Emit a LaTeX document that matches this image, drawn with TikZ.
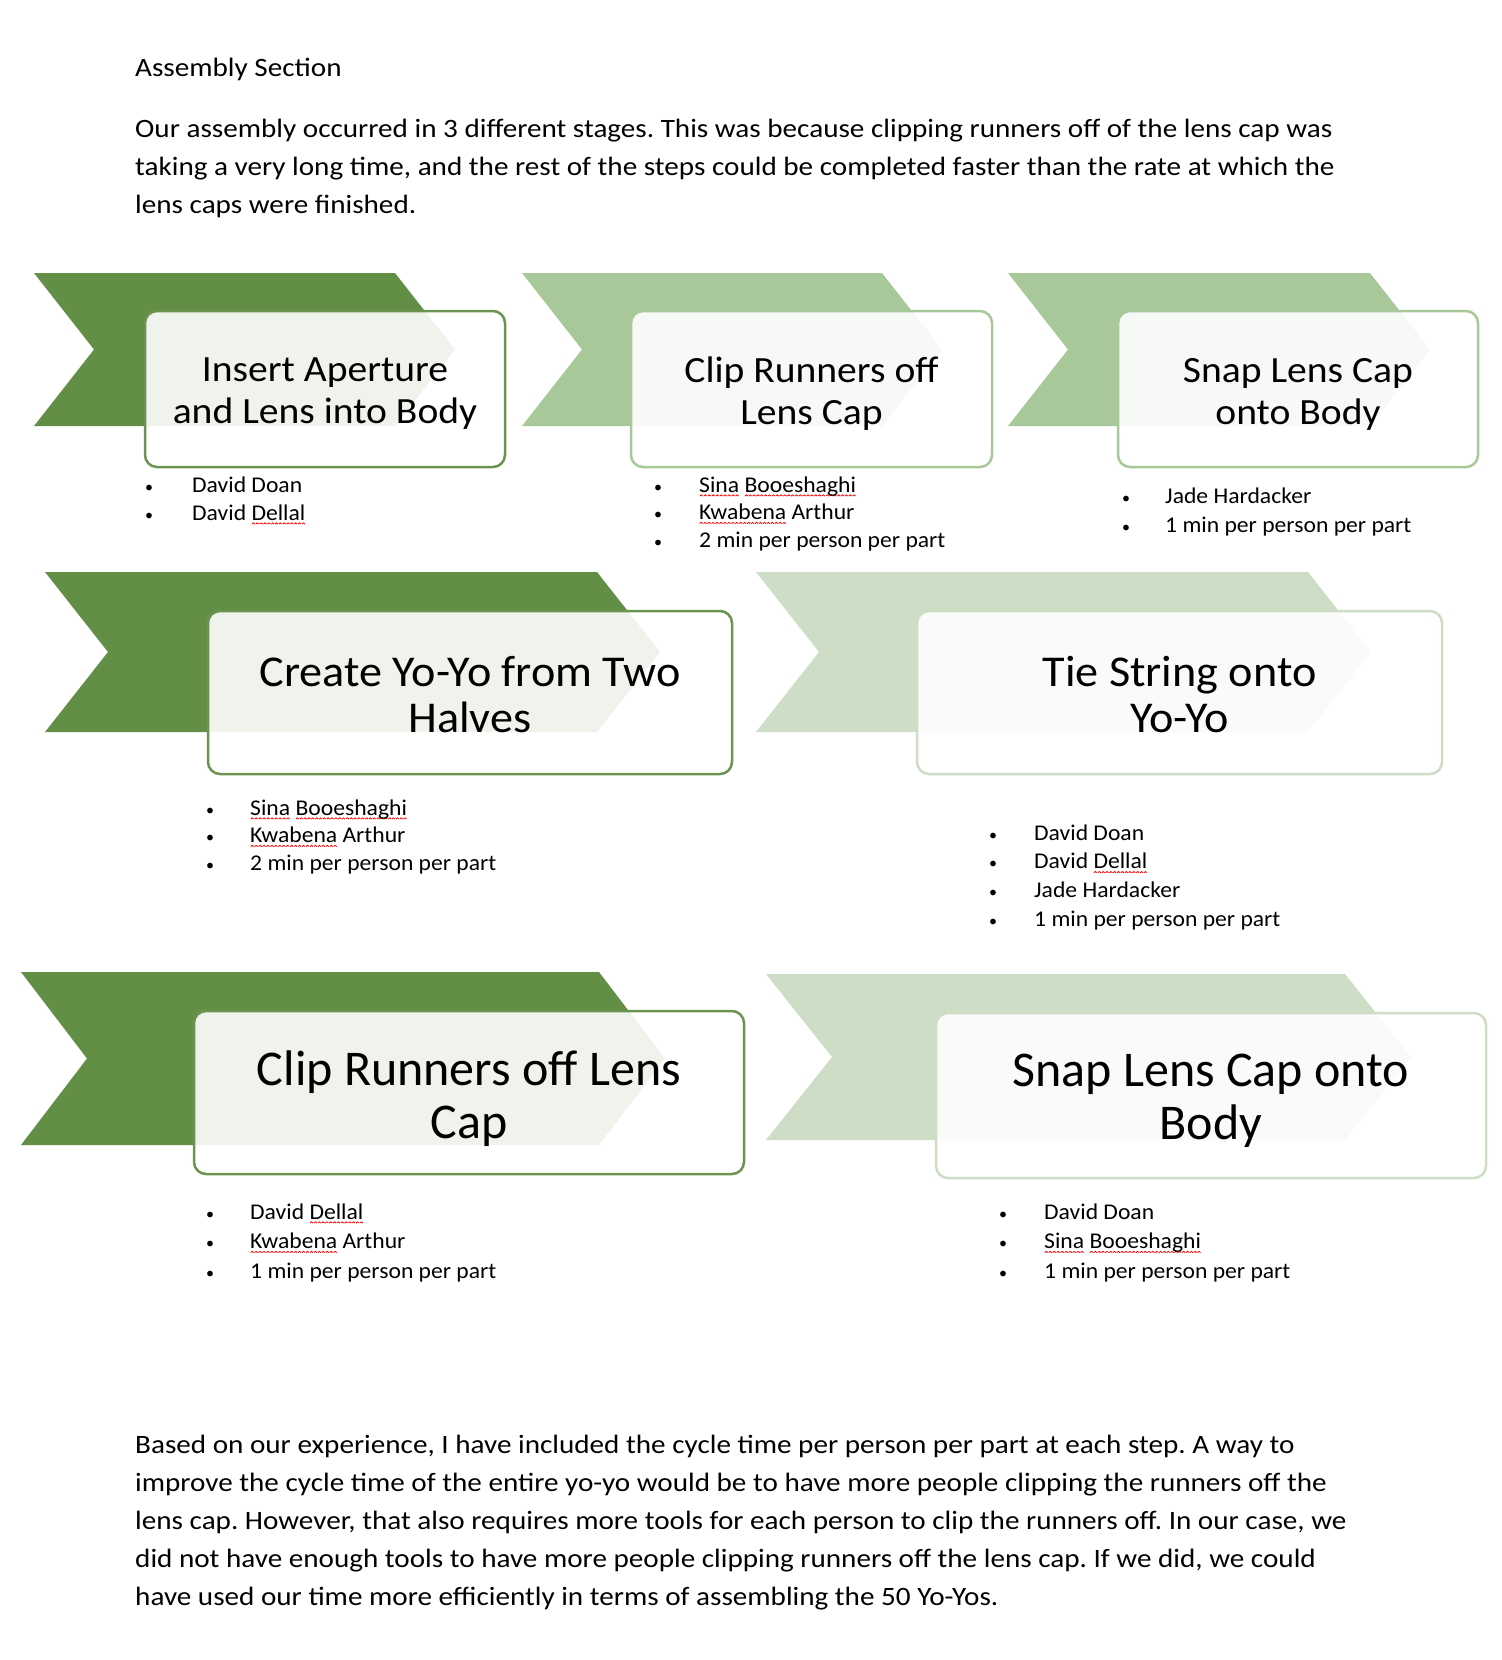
\documentclass[tikz,border=0pt]{standalone}
\usepackage{fontspec}
\setmainfont{Carlito}
\usepackage{tikz}
\usetikzlibrary{positioning}
\frenchspacing
\definecolor{stepdark}{HTML}{628E45}
\definecolor{steplight}{HTML}{A8C899}
\definecolor{steppale}{HTML}{CEDDC5}
\definecolor{rimdark}{HTML}{6A9450}
% red spell-check wave under a word
\newcommand{\spell}[1]{\setbox0=\hbox{#1}\rlap{\raisebox{-4.5pt}{\hbox to \wd0{\xleaders\hbox{\tikz\draw[red, line width=0.8pt] (0pt,0pt) -- (1.5pt,1.3pt) -- (3pt,0pt);}\hfill}}}#1}
% chevron: left, top, bottom, right, depth, colour
\newcommand{\chevron}[6]{\fill[#6] (#1,#2) -- (#4,#2) -- ({#4+#5},{(#2+#3)/2}) -- (#4,#3) -- (#1,#3) -- ({#1+#5},{(#2+#3)/2}) -- cycle;}
\tikzset{
  stepbox/.style={draw, rounded corners=12pt, line width=2.5pt, fill=white, fill opacity=0.9, inner sep=0pt},
  steptext/.style={align=center, inner sep=0pt},
  para/.style={anchor=base west, inner sep=0pt, font=\fontsize{26.5}{30}\selectfont\addfontfeature{FakeStretch=1.1}},
  member/.style={anchor=base west, inner sep=0pt, font=\fontsize{22.5}{26}\selectfont\addfontfeature{FakeStretch=1.05}},
  dot/.style={anchor=base west, inner sep=0pt, font=\fontsize{16}{18}\selectfont}
}
\begin{document}
\begin{tikzpicture}[x=1pt, y=-1pt]
\useasboundingbox (0,0) rectangle (1502,1660);
\fill[white] (0,0) rectangle (1502,1660);

% intro text
\node[para] (title) at (135,76) {Assembly Section};
\foreach \ln [count=\i from 0] in {{Our assembly occurred in 3 different stages. This was because clipping runners off of the lens cap was},
  {taking a very long time, and the rest of the steps could be completed faster than the rate at which the},
  {lens caps were finished.}}
  \node[para] (intro\i) at (135,{137+38*\i}) {\ln};

% chevrons
\chevron{34}{273}{426}{395}{60}{stepdark}
\chevron{522}{273}{426}{882}{60}{steplight}
\chevron{1008}{273}{426}{1370}{60}{steplight}
\chevron{45}{572}{732}{597}{63}{stepdark}
\chevron{756}{572}{732}{1308}{63}{steppale}
\chevron{21}{972}{1145}{599}{66}{stepdark}
\chevron{766}{974}{1140}{1345}{66}{steppale}

% step boxes
\node[stepbox, draw=rimdark, minimum width=360, minimum height=156] (insert) at (325,389) {};
\node[stepbox, draw=steplight, minimum width=361, minimum height=156] (clipA) at (811.5,389) {};
\node[stepbox, draw=steplight, minimum width=360, minimum height=156] (snapA) at (1298,389) {};
\node[stepbox, draw=rimdark, minimum width=524, minimum height=163] (create) at (470,692.5) {};
\node[stepbox, draw=steppale, minimum width=525, minimum height=163] (tie) at (1179.5,692.5) {};
\node[stepbox, draw=rimdark, minimum width=550, minimum height=163] (clipB) at (469,1092.5) {};
\node[stepbox, draw=steppale, minimum width=550, minimum height=165] (snapB) at (1211,1095.5) {};

% step titles
\tikzset{rowone/.style={steptext, yshift=-5pt, font=\fontsize{37}{42}\selectfont\addfontfeature{FakeStretch=1.07}}}
\node[rowone] (insert-txt) at (insert) {Insert Aperture\\and Lens into Body};
\node[rowone] (clipA-txt) at (clipA) {Clip Runners off\\Lens Cap};
\node[rowone] (snapA-txt) at (snapA) {Snap Lens Cap\\onto Body};
\node[steptext, yshift=-2pt, font=\fontsize{44}{46}\selectfont\addfontfeature{FakeStretch=1.05}] (create-txt) at (create) {Create Yo-Yo from Two\\Halves};
\node[steptext, yshift=-2pt, font=\fontsize{44}{46}\selectfont\addfontfeature{FakeStretch=1.05}] (tie-txt) at (tie) {Tie String onto\\Yo-Yo};
\node[steptext, yshift=-6pt, font=\fontsize{50}{53}\selectfont] (clipB-txt) at (clipB) {Clip Runners off Lens\\Cap};
\node[steptext, yshift=-5pt, font=\fontsize{50}{53}\selectfont] (snapB-txt) at (snapB) {Snap Lens Cap onto\\Body};

% crews
\foreach \who [count=\i from 0] in {David Doan, David \spell{Dellal}} {
  \node[dot] (dotA\i) at (145,{492+28*\i}) {•};
  \node[member] (crewA\i) at (192,{492+28*\i}) {\who};
}
\foreach \who [count=\i from 0] in {\spell{Sina} \spell{Booeshaghi}, \spell{Kwabena} Arthur, 2 min per person per part} {
  \node[dot] (dotB\i) at (654,{492+27.5*\i}) {•};
  \node[member] (crewB\i) at (699,{492+27.5*\i}) {\who};
}
\foreach \who [count=\i from 0] in {Jade Hardacker, 1 min per person per part} {
  \node[dot] (dotC\i) at (1122,{503+29*\i}) {•};
  \node[member] (crewC\i) at (1165,{503+29*\i}) {\who};
}
\foreach \who [count=\i from 0] in {\spell{Sina} \spell{Booeshaghi}, \spell{Kwabena} Arthur, 2 min per person per part} {
  \node[dot] (dotD\i) at (206,{815+27.5*\i}) {•};
  \node[member] (crewD\i) at (250,{815+27.5*\i}) {\who};
}
\foreach \who [count=\i from 0] in {David Doan, David \spell{Dellal}, Jade Hardacker, 1 min per person per part} {
  \node[dot] (dotE\i) at (989,{840+28.7*\i}) {•};
  \node[member] (crewE\i) at (1034,{840+28.7*\i}) {\who};
}
\foreach \who [count=\i from 0] in {David \spell{Dellal}, \spell{Kwabena} Arthur, 1 min per person per part} {
  \node[dot] (dotF\i) at (206,{1219+29.5*\i}) {•};
  \node[member] (crewF\i) at (250,{1219+29.5*\i}) {\who};
}
\foreach \who [count=\i from 0] in {David Doan, \spell{Sina} \spell{Booeshaghi}, 1 min per person per part} {
  \node[dot] (dotG\i) at (999,{1219+29.5*\i}) {•};
  \node[member] (crewG\i) at (1044,{1219+29.5*\i}) {\who};
}

% closing text
\foreach \ln [count=\i from 0] in {{Based on our experience, I have included the cycle time per person per part at each step. A way to},
  {improve the cycle time of the entire yo-yo would be to have more people clipping the runners off the},
  {lens cap. However, that also requires more tools for each person to clip the runners off. In our case, we},
  {did not have enough tools to have more people clipping runners off the lens cap. If we did, we could},
  {have used our time more efficiently in terms of assembling the 50 Yo-Yos.}}
  \node[para] (outro\i) at (135,{1453+38*\i}) {\ln};
\end{tikzpicture}
\end{document}
